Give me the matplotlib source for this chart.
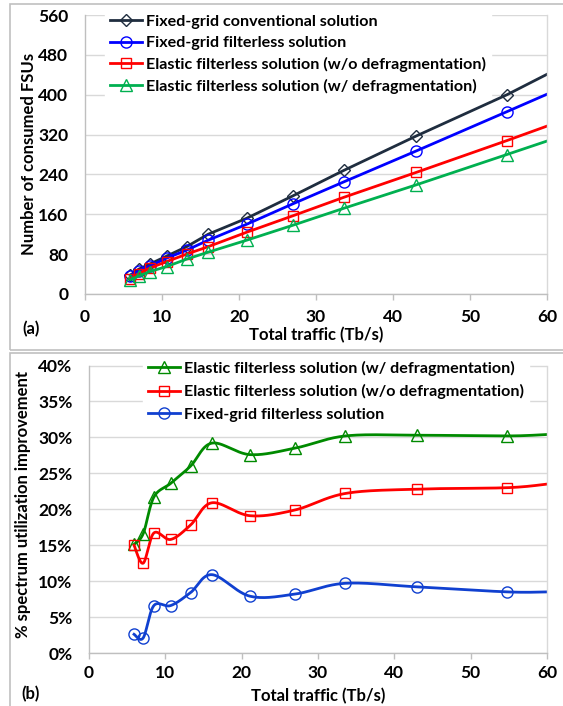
import numpy as np
import matplotlib
matplotlib.use("Agg")
import matplotlib.pyplot as plt
from matplotlib.patches import Rectangle
from matplotlib.ticker import FuncFormatter

plt.rcParams['font.family'] = ['Lato', 'DejaVu Sans']
plt.rcParams['font.weight'] = 'bold'

# ---------------- data ----------------
traffic = [5.9, 7.0, 8.4, 10.6, 13.2, 16.0, 21.0, 27.0, 33.6, 43.0, 54.8, 60.0]

fsu_fixed_conv = [38, 50, 60, 76, 95, 120, 152, 197, 248, 317, 400, 441]
fsu_fixed_filterless = [37, 47, 56, 72, 88, 108, 140, 181, 225, 287, 366, 401]
fsu_elastic_wo = [31, 41, 52, 65, 80, 95, 124, 157, 194, 244, 308, 337]
fsu_elastic_w = [29, 36, 45, 55, 70, 84, 108, 138, 172, 219, 280, 307]

impr_traffic = [5.9, 7.1, 8.5, 10.7, 13.3, 16.1, 21.1, 27.0, 33.6, 43.0, 54.8, 60.0]
impr_elastic_w = [15.1, 16.6, 21.7, 23.6, 26.0, 29.2, 27.6, 28.5, 30.2, 30.3, 30.2, 30.4]
impr_elastic_wo = [15.0, 12.5, 16.7, 15.8, 17.8, 20.9, 19.1, 19.9, 22.2, 22.8, 23.0, 23.5]
impr_fixed_filterless = [2.6, 2.1, 6.6, 6.6, 8.4, 10.9, 7.9, 8.2, 9.7, 9.2, 8.5, 8.5]

labels_top = ["Fixed-grid conventional solution",
              "Fixed-grid filterless solution",
              "Elastic filterless solution (w/o defragmentation)",
              "Elastic filterless solution (w/ defragmentation)"]
labels_bot = ["Elastic filterless solution (w/ defragmentation)",
              "Elastic filterless solution (w/o defragmentation)",
              "Fixed-grid filterless solution"]

x_ticks = [0, 10, 20, 30, 40, 50, 60]
y_ticks_top = [0, 80, 160, 240, 320, 400, 480, 560]
y_ticks_bot = [0, 5, 10, 15, 20, 25, 30, 35, 40]


def smooth(x, y, n=40):
    pts = np.column_stack([x, y]).astype(float)
    out = []
    for i in range(len(pts) - 1):
        p0 = pts[i - 1] if i > 0 else pts[i]
        p1 = pts[i]
        p2 = pts[i + 1]
        p3 = pts[i + 2] if i + 2 < len(pts) else pts[i + 1]
        c1 = p1 + (p2 - p0) / 6.0
        c2 = p2 - (p3 - p1) / 6.0
        t = np.linspace(0, 1, n)[:, None]
        seg = (1 - t) ** 3 * p1 + 3 * (1 - t) ** 2 * t * c1 + 3 * (1 - t) * t ** 2 * c2 + t ** 3 * p2
        out.append(seg if i == 0 else seg[1:])
    s = np.vstack(out)
    return s[:, 0], s[:, 1]


W, H = 563, 706
fig = plt.figure(figsize=(W / 100, H / 100), dpi=100)
fig.patch.set_facecolor('white')


def fx(px):
    return px / W


def fy(py):
    return 1 - py / H


# panel borders
fig.patches.append(Rectangle((fx(10), fy(350)), 1.0, (350 - 4) / H, transform=fig.transFigure,
                             fill=False, edgecolor='#c0c0c0', lw=1.2))
fig.patches.append(Rectangle((fx(10), fy(760)), 1.0, (760 - 353) / H, transform=fig.transFigure,
                             fill=False, edgecolor='#c0c0c0', lw=1.2))

grid_c = '#d9d9d9'
spine_c = '#bfbfbf'
TICK_FS = 12.5
LAB_FS = 12
LEG_FS = 11.6


def style_axes(ax, xpad):
    ax.set_axisbelow(True)
    ax.yaxis.grid(True, color=grid_c, lw=1.0)
    ax.spines['top'].set_visible(False)
    ax.spines['right'].set_color(grid_c)
    ax.spines['left'].set_color(spine_c)
    ax.spines['bottom'].set_color(spine_c)
    for s in ax.spines.values():
        s.set_linewidth(1.0)
    ax.tick_params(axis='x', direction='out', length=4, width=1, color=spine_c, pad=xpad,
                   labelsize=TICK_FS)
    ax.tick_params(axis='y', length=0, pad=12, labelsize=TICK_FS)
    for lab in ax.get_xticklabels() + ax.get_yticklabels():
        lab.set_fontweight('bold')


# ---------------- top panel ----------------
ax1 = fig.add_axes([fx(85), fy(294), fx(547) - fx(85), (294 - 15) / H])
styles_top = [('#1f2d3f', 'D', 6), ('#0000ff', 'o', 8), ('#ff0000', 's', 7.5), ('#00b050', '^', 8)]
series_top = [fsu_fixed_conv, fsu_fixed_filterless, fsu_elastic_wo, fsu_elastic_w]
handles = []
for ys, (c, m, ms), lab in zip(series_top, styles_top, labels_top):
    h, = ax1.plot(traffic, ys, color=c, lw=2, marker=m, ms=ms, mfc='none', mec=c, mew=1.0,
                  markevery=list(range(len(traffic) - 1)), label=lab, clip_on=True)
    handles.append(h)
ax1.set_xlim(0, 60)
ax1.set_ylim(0, 560)
ax1.set_xticks(x_ticks)
ax1.set_yticks(y_ticks_top)
style_axes(ax1, 7)
leg1 = fig.legend(handles=handles, loc='upper left', bbox_to_anchor=(fx(105), fy(10)),
                  bbox_transform=fig.transFigure, frameon=True, fancybox=False,
                  prop={'weight': 'bold', 'size': LEG_FS}, handlelength=2.0, handletextpad=0.25,
                  labelspacing=0.42, borderpad=0.3, borderaxespad=0)
leg1.get_frame().set_facecolor('white')
leg1.get_frame().set_edgecolor('white')
leg1.get_frame().set_alpha(1)

fig.text(fx(316), fy(335), "Total traffic (Tb/s)", ha='center', va='center', fontsize=LAB_FS,
         fontweight='bold')
fig.text(fx(29), fy(154), "Number of consumed FSUs", ha='center', va='center', rotation=90,
         fontsize=LAB_FS, fontweight='bold')
fig.text(fx(31), fy(329), "(a)", ha='center', va='center', fontsize=LAB_FS, fontweight='bold')

# ---------------- bottom panel ----------------
ax2 = fig.add_axes([fx(89), fy(653), fx(547) - fx(89), (653 - 365.5) / H])
styles_bot = [('#008a00', '^', 8), ('#ff0000', 's', 7.5), ('#1040d0', 'o', 8)]
series_bot = [impr_elastic_w, impr_elastic_wo, impr_fixed_filterless]
handles2 = []
for ys, (c, m, ms), lab in zip(series_bot, styles_bot, labels_bot):
    sx, sy = smooth(impr_traffic, ys)
    ax2.plot(sx, sy, color=c, lw=2, zorder=2)
    ax2.plot(impr_traffic[:-1], ys[:-1], ls='none', marker=m, ms=ms, mfc='none', mec=c,
             mew=1.0, zorder=3)
    h, = ax2.plot([], [], color=c, lw=2, marker=m, ms=ms, mfc='none', mec=c, mew=1.0, label=lab)
    handles2.append(h)
ax2.set_xlim(0, 60)
ax2.set_ylim(0, 40)
ax2.set_xticks(x_ticks)
ax2.set_yticks(y_ticks_bot)
ax2.yaxis.set_major_formatter(FuncFormatter(lambda v, p: f"{v:.0f}%"))
style_axes(ax2, 5)
leg2 = fig.legend(handles=handles2, loc='upper left', bbox_to_anchor=(fx(143), fy(356)),
                  bbox_transform=fig.transFigure, frameon=True, fancybox=False,
                  prop={'weight': 'bold', 'size': LEG_FS}, handlelength=2.0, handletextpad=0.25,
                  labelspacing=0.52, borderpad=0.3, borderaxespad=0)
leg2.get_frame().set_facecolor('white')
leg2.get_frame().set_edgecolor('white')
leg2.get_frame().set_alpha(1)

fig.text(fx(318), fy(696), "Total traffic (Tb/s)", ha='center', va='center', fontsize=LAB_FS,
         fontweight='bold')
fig.text(fx(23), fy(505), "% spectrum utilization improvement", ha='center', va='center',
         rotation=90, fontsize=LAB_FS, fontweight='bold')
fig.text(fx(31), fy(694), "(b)", ha='center', va='center', fontsize=LAB_FS, fontweight='bold')

fig.savefig("out.png", dpi=100, facecolor='white')
